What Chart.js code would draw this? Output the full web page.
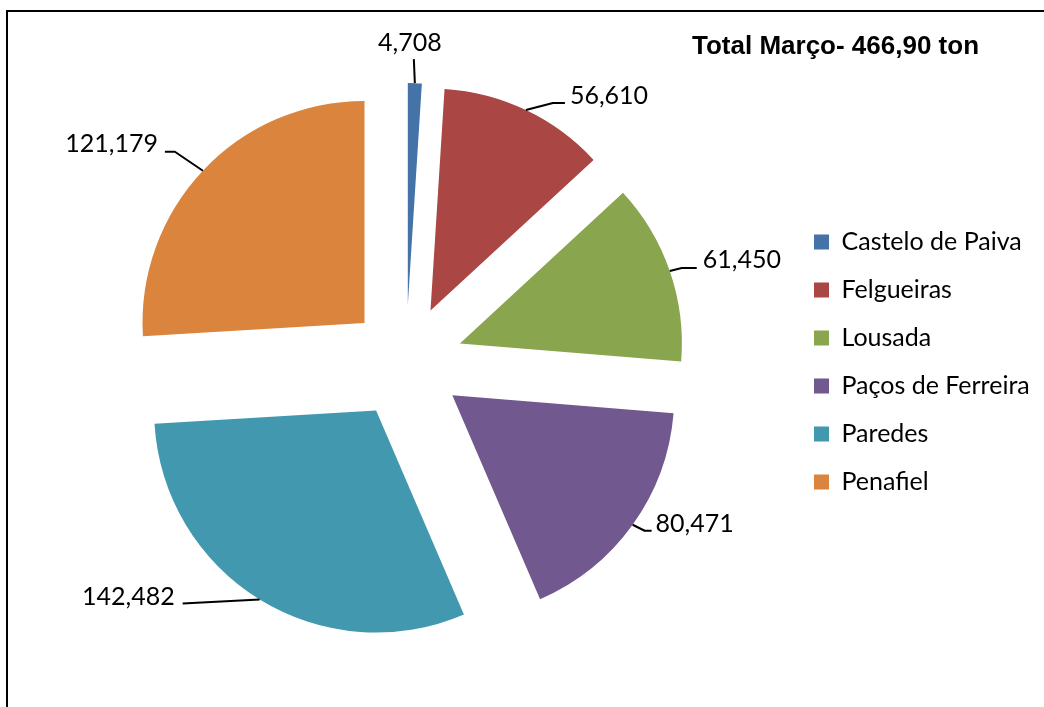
<!DOCTYPE html>
<html>
<head>
<meta charset="utf-8">
<script src="https://cdn.jsdelivr.net/npm/chart.js@4.4.0/dist/chart.umd.min.js"></script>
<style>
  body { margin: 0; background: #fff; overflow: hidden; }
  #frame { position: absolute; left: 6px; top: 10px; width: 1100px; height: 800px; border: 2px solid #000; }
  #chart { position: absolute; left: 0; top: 0; }
</style>
</head>
<body>
<div id="frame"></div>
<canvas id="chart" width="1044" height="707"></canvas>
<script>
// dados - toneladas por concelho, março
const concelhos = ['Castelo de Paiva', 'Felgueiras', 'Lousada', 'Paços de Ferreira', 'Paredes', 'Penafiel'];
const toneladas = [4.708, 56.610, 61.450, 80.471, 142.482, 121.179];
const cores = ['#4572A7', '#AA4643', '#89A54E', '#71588F', '#4198AF', '#DB843D'];

// posicao das linhas de chamada (relativa ao ponto na borda da fatia)
const chamadas = [
    { pts: [[-1, -24]], txt: [-4, -8, 'center'] },
    { pts: [[27, -7], [39, -7]], txt: [5, 1, 'left'] },
    { pts: [[12, -3], [27, -3]], txt: [6, 0, 'left'] },
    { pts: [[12, 6], [19, 6]], txt: [4, 1, 'left'] },
    { pts: [[-77, 4]], txt: [-8, 1, 'right'] },
    { pts: [[-28, -19], [-38, -19]], txt: [-7, 0, 'right'] }
];
const EXPLODE = 57;
const RAIO = 222;
const fonteRotulo = '25px Lato';

const total = toneladas.reduce((a, b) => a + b, 0);
const titulo = `Total Março- ${total.toFixed(2).replace('.', ',')} ton`;

// largura do item maior da legenda, para acertar o padding
const mctx = document.createElement('canvas').getContext('2d');
mctx.font = fonteRotulo;
const maxTw = Math.max(...concelhos.map(c => mctx.measureText(c).width));

// fatias destacadas
const explodePlugin = {
    id: 'explode',
    beforeDatasetDraw(chart, args) {
        const ctx = chart.ctx;
        args.meta.data.forEach(arc => {
            const mid = (arc.startAngle + arc.endAngle) / 2;
            ctx.save();
            ctx.translate(Math.cos(mid) * EXPLODE, Math.sin(mid) * EXPLODE);
            arc.draw(ctx);
            ctx.restore();
        });
        return false;
    }
};

// rotulos com linhas de chamada
const rotulosPlugin = {
    id: 'rotulos',
    afterDatasetsDraw(chart) {
        const ctx = chart.ctx;
        const meta = chart.getDatasetMeta(0);
        ctx.save();
        ctx.strokeStyle = '#000';
        ctx.lineWidth = 2;
        ctx.lineJoin = 'round';
        ctx.fillStyle = '#000';
        ctx.font = fonteRotulo;
        ctx.textBaseline = 'alphabetic';
        meta.data.forEach((arc, i) => {
            const mid = (arc.startAngle + arc.endAngle) / 2;
            const r = EXPLODE + arc.outerRadius;
            const ax = arc.x + Math.cos(mid) * r;
            const ay = arc.y + Math.sin(mid) * r;
            const c = chamadas[i];
            ctx.beginPath();
            ctx.moveTo(ax, ay);
            let ex = ax, ey = ay;
            c.pts.forEach(p => {
                ex = ax + p[0];
                ey = ay + p[1];
                ctx.lineTo(ex, ey);
            });
            ctx.stroke();
            ctx.textAlign = c.txt[2];
            ctx.fillText(toneladas[i].toFixed(3).replace('.', ','), ex + c.txt[0], ey + c.txt[1]);
        });
        ctx.restore();
    }
};

const tituloPlugin = {
    id: 'tituloFixo',
    afterDraw(chart) {
        const ctx = chart.ctx;
        ctx.save();
        ctx.font = 'bold 26px "Liberation Sans", Arial, sans-serif';
        ctx.fillStyle = '#000';
        ctx.textAlign = 'left';
        ctx.textBaseline = 'alphabetic';
        ctx.fillText(titulo, 692, 54);
        ctx.restore();
    }
};

new Chart(document.getElementById('chart').getContext('2d'), {
    type: 'pie',
    data: {
        labels: concelhos,
        datasets: [{
            data: toneladas,
            backgroundColor: cores,
            borderWidth: 0
        }]
    },
    options: {
        responsive: false,
        animation: false,
        radius: RAIO,
        layout: {
            padding: { left: 21, right: 192.5 - maxTw, top: 17, bottom: 0 }
        },
        plugins: {
            tooltip: { enabled: false },
            legend: {
                position: 'right',
                labels: {
                    boxWidth: 15,
                    boxHeight: 15,
                    padding: 23,
                    color: '#000',
                    font: { family: 'Lato', size: 25 }
                }
            }
        }
    },
    plugins: [explodePlugin, rotulosPlugin, tituloPlugin]
});
</script>
</body>
</html>
